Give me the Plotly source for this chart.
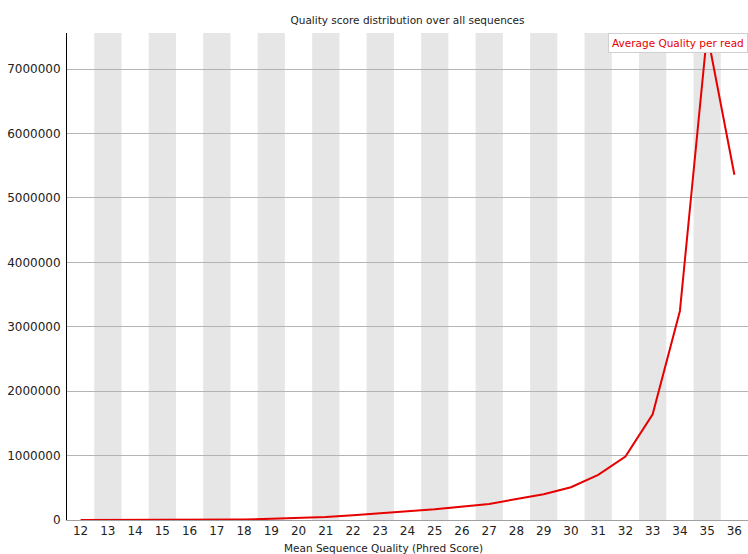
import plotly.graph_objects as go

quality = list(range(12, 37))
counts = [1000, 1500, 2000, 2500, 3500, 5000, 8000, 18000, 30000, 48000, 75000,
          100000, 135000, 166000, 207000, 249000, 326000, 399000, 508000, 700000,
          985000, 1640000, 3245000, 7560000, 5360000]
yticks = [0, 1000000, 2000000, 3000000, 4000000, 5000000, 6000000, 7000000]
title = "Quality score distribution over all sequences"
xtitle = "Mean Sequence Quality (Phred Score)"
series_name = "Average Quality per read"

ymax = max(counts)
font = "DejaVu Sans"
red = "#e60000"

fig = go.Figure()
fig.add_trace(go.Scatter(x=quality, y=counts, mode="lines",
                         line=dict(color=red, width=2),
                         name=series_name, showlegend=False))

shapes = []
for i, q in enumerate(quality):
    if i % 2 == 1:
        shapes.append(dict(type="rect", xref="x", yref="paper",
                           x0=q - 0.5, x1=q + 0.5, y0=0, y1=1,
                           fillcolor="#e6e6e6", line=dict(width=0), layer="below"))

fig.update_layout(
    width=748, height=554,
    margin=dict(l=67, r=0, t=33, b=34),
    paper_bgcolor="white", plot_bgcolor="white",
    font=dict(family=font, size=12, color="#222222"),
    title=dict(text=title, x=0.5, xref="paper", xanchor="center",
               y=1 - 20.5 / 554, yanchor="middle",
               font=dict(size=10.5, color="#222222")),
    shapes=shapes,
    annotations=[
        dict(text=series_name, xref="paper", yref="paper", x=1, y=1,
             xanchor="right", yanchor="top", showarrow=False,
             font=dict(color=red, size=10.5, family=font),
             bgcolor="white", bordercolor="#d0d0d0", borderwidth=1, borderpad=3),
        dict(text=xtitle, xref="paper", yref="paper", x=(383.5 - 67) / 681,
             y=(520 - 548) / 487, xanchor="center", yanchor="middle",
             showarrow=False, font=dict(size=10.5, color="#222222", family=font)),
    ],
    xaxis=dict(range=[11.5, 36.5], tickmode="array", tickvals=quality,
               ticktext=[str(q) for q in quality], showgrid=False, zeroline=False,
               showline=True, linecolor="#a0a0a0", ticks="", ticklen=0),
    yaxis=dict(range=[0, ymax], tickmode="array", tickvals=yticks,
               ticktext=[str(v) for v in yticks], showgrid=True, gridcolor="#b4b4b4",
               gridwidth=1, zeroline=False, showline=True, linecolor="black",
               ticks="", ticklabelstandoff=3),
)

fig.write_html("out.html", config={"displayModeBar": False},
               post_script="document.body.style.margin='0';document.body.style.overflow='hidden';")
